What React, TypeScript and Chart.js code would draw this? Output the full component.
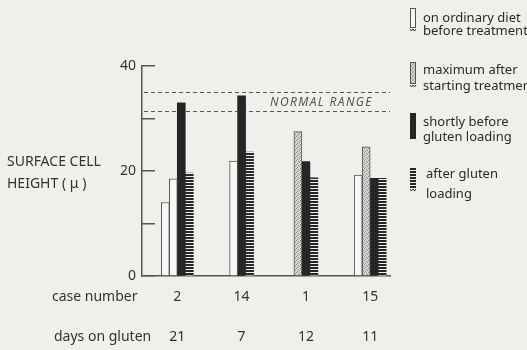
import React, { useEffect, useRef } from 'react';
import { Chart, registerables } from 'chart.js';

Chart.register(...registerables);

// ---- data ----
const caseNumbers = ['2', '14', '1', '15'];
const daysOnGluten = ['21', '7', '12', '11'];
const ordinaryDiet: (number | null)[] = [14, 21.9, null, 19.2];
const maximumAfter: (number | null)[] = [18.5, null, 27.5, 24.6];
const shortlyBefore: (number | null)[] = [33, 34.3, 21.8, 18.6];
const afterGluten: (number | null)[] = [19.6, 23.6, 18.7, 18.6];
const normalRange = [31.4, 35];
const yTickValues = [0, 10, 20, 30, 40];
const yLabelledTicks = [0, 20, 40];
const seriesLabels = [
  ['on ordinary diet', 'before treatment'],
  ['maximum after', 'starting treatment'],
  ['shortly before', 'gluten loading'],
  ['after gluten', 'loading'],
];
const yTitleLines = ['SURFACE CELL', 'HEIGHT ( \u03bc )'];
const rowTitles = ['case number', 'days on gluten'];
const normalLabel = 'NORMAL RANGE';

// ---- styles ----
const BG = '#efefec';
const INK = '#2a2a2a';
const AXIS = '#555555';
const FONT = '"Noto Sans", "DejaVu Sans", sans-serif';

function makePattern(w: number, h: number, draw: (c: CanvasRenderingContext2D) => void) {
  const cv = document.createElement('canvas');
  cv.width = w;
  cv.height = h;
  const c = cv.getContext('2d')!;
  draw(c);
  return c.createPattern(cv, 'repeat')!;
}

export default function App() {
  const ref = useRef<HTMLCanvasElement | null>(null);

  useEffect(() => {
    if (!ref.current) return;

    const hatch = makePattern(1, 3, (c) => {
      c.fillStyle = '#262626';
      c.fillRect(0, 0, 1, 2);
      c.fillStyle = BG;
      c.fillRect(0, 2, 1, 1);
    });
    const stipple = makePattern(4, 4, (c) => {
      c.fillStyle = '#d4d4d0';
      c.fillRect(0, 0, 4, 4);
      c.fillStyle = '#8e8e8a';
      [[0, 0], [2, 1], [1, 3], [3, 2]].forEach(([x, y]) => c.fillRect(x, y, 1, 1));
    });
    const white = '#f7f7f5';
    const black = '#262626';

    const toPoints = (arr: (number | null)[]) => arr.map((v, i) => ({ x: i, y: v }));

    const extras = {
      id: 'extras',
      beforeDatasetsDraw(chart: any) {
        const { ctx, chartArea, scales } = chart;
        ctx.save();
        ctx.strokeStyle = AXIS;
        ctx.lineWidth = 1;
        ctx.setLineDash([4, 3]);
        normalRange.forEach((v) => {
          const y = Math.round(scales.y.getPixelForValue(v)) + 0.5;
          ctx.beginPath();
          ctx.moveTo(chartArea.left + 2, y);
          ctx.lineTo(chartArea.right, y);
          ctx.stroke();
        });
        ctx.setLineDash([]);
        const yMid = (scales.y.getPixelForValue(normalRange[0]) + scales.y.getPixelForValue(normalRange[1])) / 2;
        ctx.fillStyle = '#555';
        ctx.font = `italic 12px ${FONT}`;
        (ctx as any).letterSpacing = '1.4px';
        ctx.textBaseline = 'middle';
        ctx.textAlign = 'left';
        ctx.fillText(normalLabel, 270, yMid + 1);
        (ctx as any).letterSpacing = '0px';
        ctx.restore();
      },
      afterDraw(chart: any) {
        const { ctx } = chart;
        ctx.save();
        ctx.textBaseline = 'middle';
        ctx.textAlign = 'left';
        // y title
        ctx.fillStyle = '#333';
        ctx.font = `14px ${FONT}`;
        ctx.fillText(yTitleLines[0], 7, 162);
        ctx.fillText(yTitleLines[1], 7, 184);
        // row titles
        ctx.font = `14px ${FONT}`;
        ctx.fillText(rowTitles[0], 52, 297);
        ctx.fillText(rowTitles[1], 54, 337);

        // legend
        const boxX = 410;
        const boxW = 6;
        const tops = [8, 62, 113, 167];
        const bottoms = [28, 84, 139, 188];
        const lineYs = [[18, 31], [70, 86], [122, 137], [174, 194]];
        const textXs = [423, 423, 423, 426];
        const fills: any[] = [white, stipple, black, hatch];
        const strokes = [true, true, false, false];
        const zig = [true, true, false, true];
        for (let i = 0; i < 4; i++) {
          const t = tops[i];
          const h = bottoms[i] - t;
          ctx.fillStyle = fills[i];
          ctx.fillRect(boxX, t, boxW, h);
          if (strokes[i]) {
            ctx.strokeStyle = AXIS;
            ctx.lineWidth = 1;
            ctx.strokeRect(boxX + 0.5, t + 0.5, boxW - 1, h - 1);
          }
          if (zig[i]) {
            ctx.strokeStyle = '#333';
            ctx.lineWidth = 1;
            ctx.beginPath();
            const yb = bottoms[i] + 1;
            ctx.moveTo(boxX, yb);
            ctx.lineTo(boxX + 1.5, yb + 2);
            ctx.lineTo(boxX + 3, yb);
            ctx.lineTo(boxX + 4.5, yb + 2);
            ctx.lineTo(boxX + 6, yb);
            ctx.stroke();
          }
          ctx.fillStyle = INK;
          ctx.font = `13px ${FONT}`;
          seriesLabels[i].forEach((line, k) => ctx.fillText(line, textXs[i], lineYs[i][k]));
        }
        ctx.restore();
      },
    };

    const chart = new Chart(ref.current, {
      type: 'bar',
      data: {
        datasets: [
          {
            label: seriesLabels[0].join(' '),
            data: toPoints(ordinaryDiet) as any,
            backgroundColor: white,
            borderColor: AXIS,
            borderWidth: 1,
          },
          {
            label: seriesLabels[1].join(' '),
            data: toPoints(maximumAfter) as any,
            backgroundColor: [white, stipple, stipple, stipple] as any,
            borderColor: AXIS,
            borderWidth: 1,
          },
          {
            label: seriesLabels[2].join(' '),
            data: toPoints(shortlyBefore) as any,
            backgroundColor: black,
            borderWidth: 0,
          },
          {
            label: seriesLabels[3].join(' '),
            data: toPoints(afterGluten) as any,
            backgroundColor: hatch as any,
            borderWidth: 0,
          },
        ],
      },
      options: {
        animation: false,
        responsive: false,
        devicePixelRatio: 1,
        skipNull: true,
        barThickness: 8,
        layout: { padding: { top: 66, right: 137, bottom: 0, left: 0 } },
        plugins: { legend: { display: false }, tooltip: { enabled: false } },
        scales: {
          x: {
            type: 'linear',
            position: 'bottom',
            offset: false,
            min: -0.549,
            max: 3.308,
            afterBuildTicks: (axis: any) => {
              axis.ticks = caseNumbers.map((_, i) => ({ value: i }));
            },
            afterFit: (axis: any) => {
              axis.height = 74;
            },
            grid: { display: false, drawTicks: false },
            border: { display: true, color: AXIS, width: 1.5 },
            ticks: {
              autoSkip: false,
              maxRotation: 0,
              padding: 11,
              color: '#333',
              font: { family: FONT, size: 14, lineHeight: '20px' } as any,
              callback: (v: any) => [caseNumbers[v], '', daysOnGluten[v]],
            },
          },
          y: {
            type: 'linear',
            min: 0,
            max: 40,
            afterBuildTicks: (axis: any) => {
              axis.ticks = yTickValues.map((v) => ({ value: v }));
            },
            afterFit: (axis: any) => {
              axis.width = 142;
            },
            grid: {
              display: true,
              drawOnChartArea: false,
              drawTicks: true,
              tickLength: -13,
              color: AXIS,
              lineWidth: 1.5,
            },
            border: { display: true, color: AXIS, width: 1.5 },
            ticks: {
              padding: 19,
              color: '#333',
              font: { family: FONT, size: 14 },
              callback: (v: any) => (yLabelledTicks.includes(v) ? String(v) : ''),
            },
          },
        },
      } as any,
      plugins: [extras],
    });

    return () => chart.destroy();
  }, []);

  return (
    <div style={{ position: 'fixed', left: 0, top: 0, width: 527, height: 350, background: BG }}>
      <canvas ref={ref} width={527} height={350} style={{ display: 'block' }} />
    </div>
  );
}
